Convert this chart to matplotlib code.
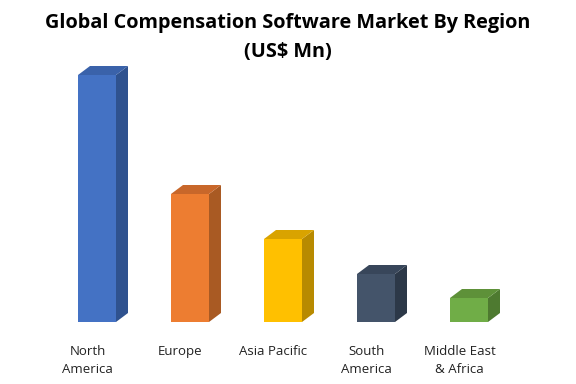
import matplotlib
matplotlib.use("Agg")
import matplotlib.pyplot as plt
from matplotlib.patches import Polygon

categories = ["North\nAmerica", "Europe", "Asia Pacific", "South\nAmerica", "Middle East\n& Africa"]
values = [247, 128, 83, 48, 24]
front_colors = ["#4472C4", "#ED7D31", "#FFC000", "#44546A", "#70AD47"]
side_colors = ["#2F528F", "#A95A23", "#B88A00", "#2C3848", "#4E7A30"]
top_colors = ["#3A62AA", "#C8672A", "#D9A300", "#38465A", "#5E9139"]
title_lines = ["Global Compensation Software Market By Region", "(US$ Mn)"]

fig = plt.figure(figsize=(5.76, 3.84), dpi=100)
W, H = 576, 384
ax_left, ax_right = 50.5, 515.5
ax_bottom, ax_top = 322, 60
ax = fig.add_axes([ax_left / W, 1 - ax_bottom / H, (ax_right - ax_left) / W, (ax_bottom - ax_top) / H])
ax.set_xlim(-0.5, len(values) - 0.5)
ymax = 262
ax.set_ylim(0, ymax)
ax.axis("off")

bw = 38 / 93
px_x = len(values) / (ax_right - ax_left)
px_y = ymax / (ax_bottom - ax_top)
dx = 12 * px_x
dy = 9 * px_y

xs = range(len(values))
ax.bar(xs, values, width=bw, color=front_colors, zorder=3)
for x, v, sc, tc in zip(xs, values, side_colors, top_colors):
    l, r = x - bw / 2, x + bw / 2
    ax.add_patch(Polygon([(r, 0), (r + dx, dy), (r + dx, v + dy), (r, v)], closed=True,
                         facecolor=sc, edgecolor="none", zorder=2, clip_on=False))
    ax.add_patch(Polygon([(l, v), (l + dx, v + dy), (r + dx, v + dy), (r, v)], closed=True,
                         facecolor=tc, edgecolor="none", zorder=2, clip_on=False))
    for i, line in enumerate(categories[x].split("\n")):
        ax.text(x - 9.5 * px_x, -(33 + 18 * i) * px_y, line, ha="center", va="baseline",
                fontsize=9.5, family="Open Sans", color="#222222", clip_on=False)

for line, yb in zip(title_lines, [28, 57]):
    fig.text(0.5, 1 - yb / H, line, ha="center", va="baseline", fontsize=14.3,
             fontweight="bold", family="Open Sans", color="#000000")

fig.savefig("out.png", dpi=100)
